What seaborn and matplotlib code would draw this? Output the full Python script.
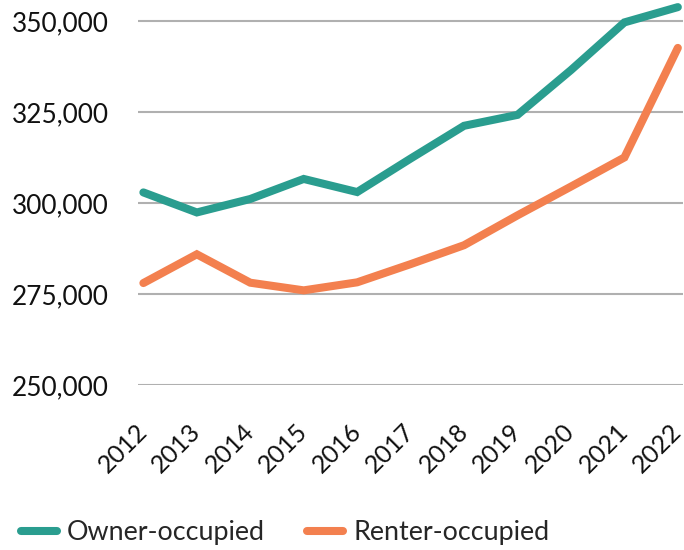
import matplotlib
matplotlib.use("Agg")
import matplotlib.pyplot as plt
import matplotlib.ticker as mticker
import matplotlib.transforms as mtransforms
import pandas as pd
import seaborn as sns

# Data
years = [2012, 2013, 2014, 2015, 2016, 2017, 2018, 2019, 2020, 2021, 2022]
owner = [302900, 297400, 301100, 306600, 303000, 312200, 321200, 324200, 336500, 349600, 353800]
renter = [278000, 285900, 278100, 276000, 278200, 283200, 288400, 296600, 304500, 312500, 342600]
series_names = ["Owner-occupied", "Renter-occupied"]
colors = ["#2a9d8f", "#f3804f"]

df = pd.DataFrame({
    "year": years * 2,
    "value": owner + renter,
    "series": [series_names[0]] * len(years) + [series_names[1]] * len(years),
})

sns.set_style("white")
plt.rcParams["font.family"] = ["Lato", "DejaVu Sans"]

fig = plt.figure(figsize=(6.84, 5.5), dpi=100)
ax = fig.add_axes([0.2018, 0.30, 0.797, 0.695])

sns.lineplot(data=df, x="year", y="value", hue="series", palette=colors,
             linewidth=5.8, ax=ax, legend=False,
             solid_capstyle="round", solid_joinstyle="miter")

ax.set_xlim(2011.9, 2022.1)
ax.set_ylim(250000, 355000)
ax.set_yticks([250000, 275000, 300000, 325000, 350000])
ax.yaxis.set_major_formatter(mticker.FuncFormatter(lambda v, p: f"{int(v):,}"))
ax.set_xticks(years)
ax.set_xticklabels([str(y) for y in years], rotation=45, ha="right",
                   rotation_mode="anchor")
ax.tick_params(axis="y", length=0, pad=21, labelsize=18.8, labelcolor="#111111")
ax.tick_params(axis="x", length=0, pad=25, labelsize=18, labelcolor="#111111")
# nudge the rotated year labels a little to the left so 2022 stays inside
shift = mtransforms.ScaledTranslation(-8 / 100, 0, fig.dpi_scale_trans)
for lab in ax.get_xticklabels():
    lab.set_transform(lab.get_transform() + shift)
ax.grid(axis="y", color="#b0b0b0", linewidth=1.5)
ax.set_axisbelow(True)
for s in ax.spines.values():
    s.set_visible(False)
ax.set_xlabel("")
ax.set_ylabel("")

handles = [plt.Line2D([], [], color=c, linewidth=5.8, solid_capstyle="round") for c in colors]
fig.legend(handles, series_names, loc="center", bbox_to_anchor=(0.417, 0.031),
           ncol=2, frameon=False, fontsize=19.4, handlelength=1.34,
           handletextpad=0.37, columnspacing=1.56, borderpad=0.2)

fig.savefig("out.png", dpi=100)
